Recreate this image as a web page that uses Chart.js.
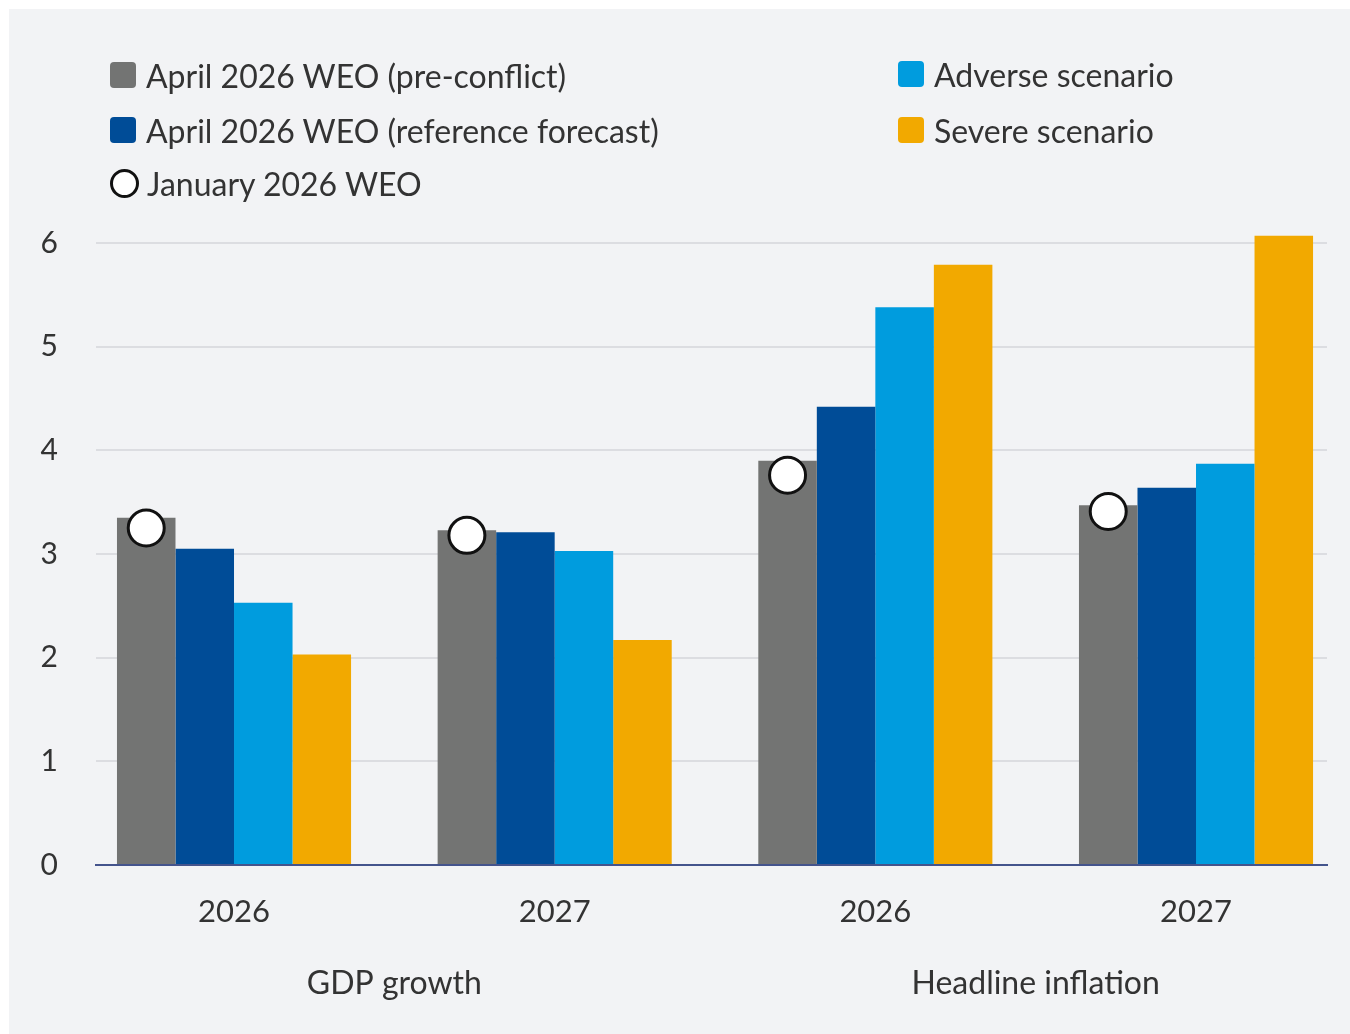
<!DOCTYPE html>
<html>
<head>
<meta charset="utf-8">
<script src="https://cdn.jsdelivr.net/npm/chart.js@4.4.1/dist/chart.umd.min.js"></script>
<style>
  body { margin: 0; background: #fff; width: 1350px; height: 1034px; overflow: hidden; font-family: Lato, "Noto Sans", sans-serif; }
  #panel { position: absolute; left: 9px; top: 9px; width: 1341px; height: 1025px; background: #f2f3f5; }
  #chart { position: absolute; left: 0; top: 0; }
  .lg { position: absolute; display: flex; align-items: center; font-size: 32px; color: #333; white-space: nowrap; height: 40px; }
  .lg .box { width: 26px; height: 26px; border-radius: 4px; margin-right: 10px; }
  .lg .dot { width: 23px; height: 23px; border-radius: 50%; border: 3px solid #111; background: #fff; margin-right: 8px; box-sizing: content-box; }
</style>
</head>
<body>
<div id="panel">
  <canvas id="chart" width="1341" height="1025"></canvas>
  <div id="legend"></div>
</div>
<script>
'use strict';
// data
var categories = ['2026', '2027', '2026', '2027'];
var groups = [
  { label: 'GDP growth', from: 0, to: 1 },
  { label: 'Headline inflation', from: 2, to: 3 }
];
var preConflict = [3.35, 3.23, 3.90, 3.47];
var reference   = [3.05, 3.21, 4.42, 3.64];
var adverse     = [2.53, 3.03, 5.38, 3.87];
var severe      = [2.03, 2.17, 5.79, 6.07];
var january     = [3.25, 3.18, 3.76, 3.41];
var yTicks = [0, 1, 2, 3, 4, 5, 6];

var catPct = 0.73;
var nBars = 4;
// january markers sit on the first (gray) bar of each group
var firstBarOffset = -catPct / 2 + catPct / nBars / 2;

function pts(arr, off) {
  return arr.map(function(v, i){ return { x: i + (off || 0), y: v }; });
}

var ink = '#333333';

var groupLabels = {
  id: 'groupLabels',
  afterDraw: function(chart) {
    var ctx = chart.ctx, xs = chart.scales.x;
    ctx.save();
    ctx.font = '32px Lato, "Noto Sans", sans-serif';
    ctx.fillStyle = ink;
    ctx.textAlign = 'center';
    ctx.textBaseline = 'middle';
    groups.forEach(function(g){
      var cx = (xs.getPixelForValue(g.from) + xs.getPixelForValue(g.to)) / 2;
      ctx.fillText(g.label, cx, 975);
    });
    ctx.restore();
  }
};

var ctx = document.getElementById('chart');
var myChart = new Chart(ctx, {
  type: 'bar',
  data: {
    datasets: [
      { label: 'January 2026 WEO', type: 'line', data: pts(january, firstBarOffset), showLine: false,
        pointRadius: 18, pointHoverRadius: 18, pointBackgroundColor: '#ffffff', pointBorderColor: '#111111',
        pointBorderWidth: 3, order: 0 },
      { label: 'April 2026 WEO (pre-conflict)', data: pts(preConflict), backgroundColor: '#737473', order: 1 },
      { label: 'April 2026 WEO (reference forecast)', data: pts(reference), backgroundColor: '#004c97', order: 1 },
      { label: 'Adverse scenario', data: pts(adverse), backgroundColor: '#009cde', order: 1 },
      { label: 'Severe scenario', data: pts(severe), backgroundColor: '#f2a900', order: 1, clip: false }
    ]
  },
  options: {
    responsive: false,
    animation: false,
    events: [],
    categoryPercentage: catPct,
    barPercentage: 1.0,
    layout: { padding: { top: 234, right: 23, left: 0, bottom: 0 } },
    plugins: { legend: { display: false }, tooltip: { enabled: false } },
    scales: {
      x: {
        type: 'linear',
        offset: false,
        min: -0.4304,
        max: 3.4085,
        afterBuildTicks: function(axis){
          axis.ticks = categories.map(function(c, i){ return { value: i }; });
        },
        afterFit: function(axis){ axis.height = 169; },
        grid: { display: true, color: 'transparent', drawTicks: false },
        border: { display: true, color: '#44548c', width: 2 },
        ticks: {
          padding: 28,
          color: ink,
          font: { size: 31, family: 'Lato' },
          autoSkip: false,
          maxRotation: 0,
          callback: function(v){ return categories[v]; }
        }
      },
      y: {
        min: 0,
        max: 6,
        afterBuildTicks: function(axis){
          axis.ticks = yTicks.map(function(v){ return { value: v }; });
        },
        afterFit: function(axis){ axis.width = 87; },
        grid: { color: '#dcdde1', lineWidth: 2, drawTicks: false },
        border: { display: false },
        ticks: { padding: 38, color: ink, font: { size: 30, family: 'Lato' } }
      }
    }
  },
  plugins: [groupLabels]
});

// html legend built from the chart datasets
var legendPos = {
  'April 2026 WEO (pre-conflict)': [101, 46],
  'April 2026 WEO (reference forecast)': [101, 101],
  'January 2026 WEO': [101, 154],
  'Adverse scenario': [889, 45],
  'Severe scenario': [889, 101]
};
var legend = document.getElementById('legend');
myChart.data.datasets.forEach(function(ds){
  var p = legendPos[ds.label];
  var item = document.createElement('div');
  item.className = 'lg';
  item.style.left = p[0] + 'px';
  item.style.top = p[1] + 'px';
  var mark = document.createElement('span');
  if (ds.type === 'line') {
    mark.className = 'dot';
  } else {
    mark.className = 'box';
    mark.style.background = ds.backgroundColor;
  }
  item.appendChild(mark);
  item.appendChild(document.createTextNode(ds.label));
  legend.appendChild(item);
});
</script>
</body>
</html>
